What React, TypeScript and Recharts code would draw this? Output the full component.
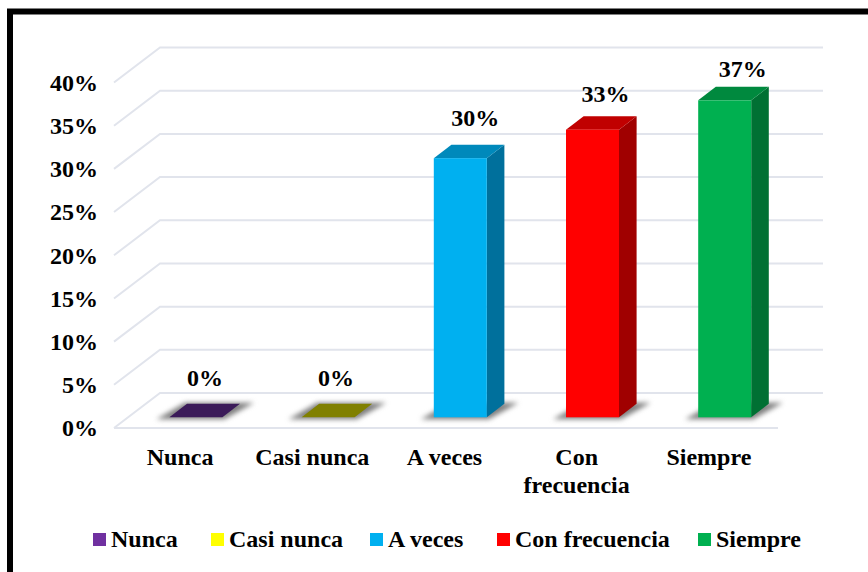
import { BarChart, Bar, XAxis, YAxis, CartesianGrid, LabelList, Legend } from 'recharts';

const categories = ['Nunca', 'Casi nunca', 'A veces', 'Con frecuencia', 'Siempre'];
const percentages = [0, 0, 30, 33.3, 36.7];
const yTicks = [0, 5, 10, 15, 20, 25, 30, 35, 40];

const frontColors = ['#7030A0', '#FFFF00', '#00B0F0', '#FF0000', '#00B050'];
const sideColors = ['#3B1B59', '#808000', '#00709C', '#A00000', '#007033'];
const topColors = ['#3B1B59', '#808000', '#0089BB', '#C00000', '#00893E'];

const legendLefts = [93, 211, 370, 497, 698];
const labelNudges = [
  { dx: 9, dy: -39 },
  { dx: 8, dy: -39 },
  { dx: 15, dy: -40 },
  { dx: 13, dy: -36 },
  { dx: 18, dy: -31 },
];

const rows = categories.map((name, i) => ({ name, value: percentages[i] }));

const FONT = '"Liberation Serif", "Times New Roman", serif';
const FONT_SIZE = 24;
const GRID_COLOR = '#E1E4EC';

// the 3D effect: walls sit behind the axis plane, bars stand on the floor between them
const WALL_DX = 46;
const WALL_DY = -35;
const BAR_DX = 15.4;
const BAR_DY = -10.7;
const DEPTH_X = 17.6;
const DEPTH_Y = -13.5;

function WallLine({ x1, x2, y1 }: any) {
  const isFloor = Math.abs(y1 - 428) < 1;
  const right = x2 + 3;
  return (
    <g fill="none" stroke={GRID_COLOR} strokeWidth={2}>
      <path d={`M${x1},${y1} L${x1 + WALL_DX},${y1 + WALL_DY} L${right + WALL_DX - 1},${y1 + WALL_DY}`} />
      {isFloor && <path d={`M${x1},${y1} L${right},${y1}`} />}
    </g>
  );
}

function Box3D({ x, y, width, height, index }: any) {
  const left = x + BAR_DX;
  const right = left + width;
  const top = y + BAR_DY;
  const bottom = top + height;
  return (
    <g>
      <path
        d={`M${left - 13},${bottom + 2} L${right + 2},${bottom + 2} L${right + DEPTH_X + 14},${bottom + DEPTH_Y - 1} L${left + DEPTH_X - 2},${bottom + DEPTH_Y - 1} Z`}
        fill="#7F7F7F"
        style={{ filter: 'blur(2.5px)' }}
      />
      {height > 0 && (
        <path
          d={`M${right},${top} L${right + DEPTH_X},${top + DEPTH_Y} L${right + DEPTH_X},${bottom + DEPTH_Y} L${right},${bottom} Z`}
          fill={sideColors[index]}
        />
      )}
      <path
        d={`M${left},${top} L${right},${top} L${right + DEPTH_X},${top + DEPTH_Y} L${left + DEPTH_X},${top + DEPTH_Y} Z`}
        fill={topColors[index]}
      />
      {height > 0 && <rect x={left} y={top} width={width} height={height} fill={frontColors[index]} />}
    </g>
  );
}

function ValueLabel({ x, y, width, value, index }: any) {
  const nudge = labelNudges[index];
  return (
    <text
      x={x + width / 2 + BAR_DX + nudge.dx}
      y={y + BAR_DY + nudge.dy}
      dy="0.33em"
      textAnchor="middle"
      fontFamily={FONT}
      fontWeight="bold"
      fontSize={FONT_SIZE}
      fill="#000"
    >
      {Math.round(value)}%
    </text>
  );
}

function PercentTick({ x, y, payload }: any) {
  return (
    <text x={x - 8} y={y + 0.5} dy="0.33em" textAnchor="end" fontFamily={FONT} fontWeight="bold" fontSize={FONT_SIZE} fill="#000">
      {payload.value}%
    </text>
  );
}

function CategoryTick({ x, y, payload }: any) {
  // only the long label breaks onto two lines
  const lines = payload.value === 'Con frecuencia' ? ['Con', 'frecuencia'] : [payload.value];
  return (
    <text textAnchor="middle" fontFamily={FONT} fontWeight="bold" fontSize={FONT_SIZE} fill="#000">
      {lines.map((line: string, i: number) => (
        <tspan key={line} x={x} y={y + 29 + i * 28}>
          {line}
        </tspan>
      ))}
    </text>
  );
}

function LegendRow() {
  return (
    <div style={{ position: 'relative', width: 868, height: 30, fontFamily: FONT, fontWeight: 'bold', fontSize: FONT_SIZE, color: '#000' }}>
      {categories.map((name, i) => (
        <div key={name} style={{ position: 'absolute', left: legendLefts[i], top: 0, whiteSpace: 'nowrap', lineHeight: '28px' }}>
          <span style={{ position: 'absolute', left: 0, top: 8, width: 13, height: 13, background: frontColors[i] }} />
          <span style={{ marginLeft: 18 }}>{name}</span>
        </div>
      ))}
    </div>
  );
}

export default function App() {
  return (
    <div style={{ position: 'absolute', left: 0, top: 0, width: 868, height: 572, background: '#fff', overflow: 'hidden' }}>
      <BarChart
        width={868}
        height={572}
        data={rows}
        barSize={53}
        margin={{ top: 82.5, right: 93, bottom: 84, left: 14 }}
      >
        <CartesianGrid vertical={false} horizontal={(props: any) => <WallLine {...props} />} />
        <XAxis dataKey="name" height={60} axisLine={false} tickLine={false} interval={0} tick={<CategoryTick />} />
        <YAxis
          width={100}
          domain={[0, 40]}
          ticks={yTicks}
          axisLine={false}
          tickLine={false}
          interval={0}
          tick={<PercentTick />}
        />
        <Legend
          layout="horizontal"
          align="center"
          verticalAlign="middle"
          content={<LegendRow />}
          wrapperStyle={{ left: 0, top: 525, width: 868 }}
        />
        <Bar dataKey="value" isAnimationActive={false} shape={<Box3D />}>
          <LabelList dataKey="value" content={<ValueLabel />} />
        </Bar>
      </BarChart>
      <div
        style={{
          position: 'absolute',
          left: 7,
          top: 9,
          width: 900,
          height: 600,
          borderStyle: 'solid',
          borderColor: '#000',
          borderWidth: '5px 6px',
          boxShadow: '0 -1px 0 #808080, inset 0 1px 0 #808080',
          pointerEvents: 'none',
        }}
      />
    </div>
  );
}
